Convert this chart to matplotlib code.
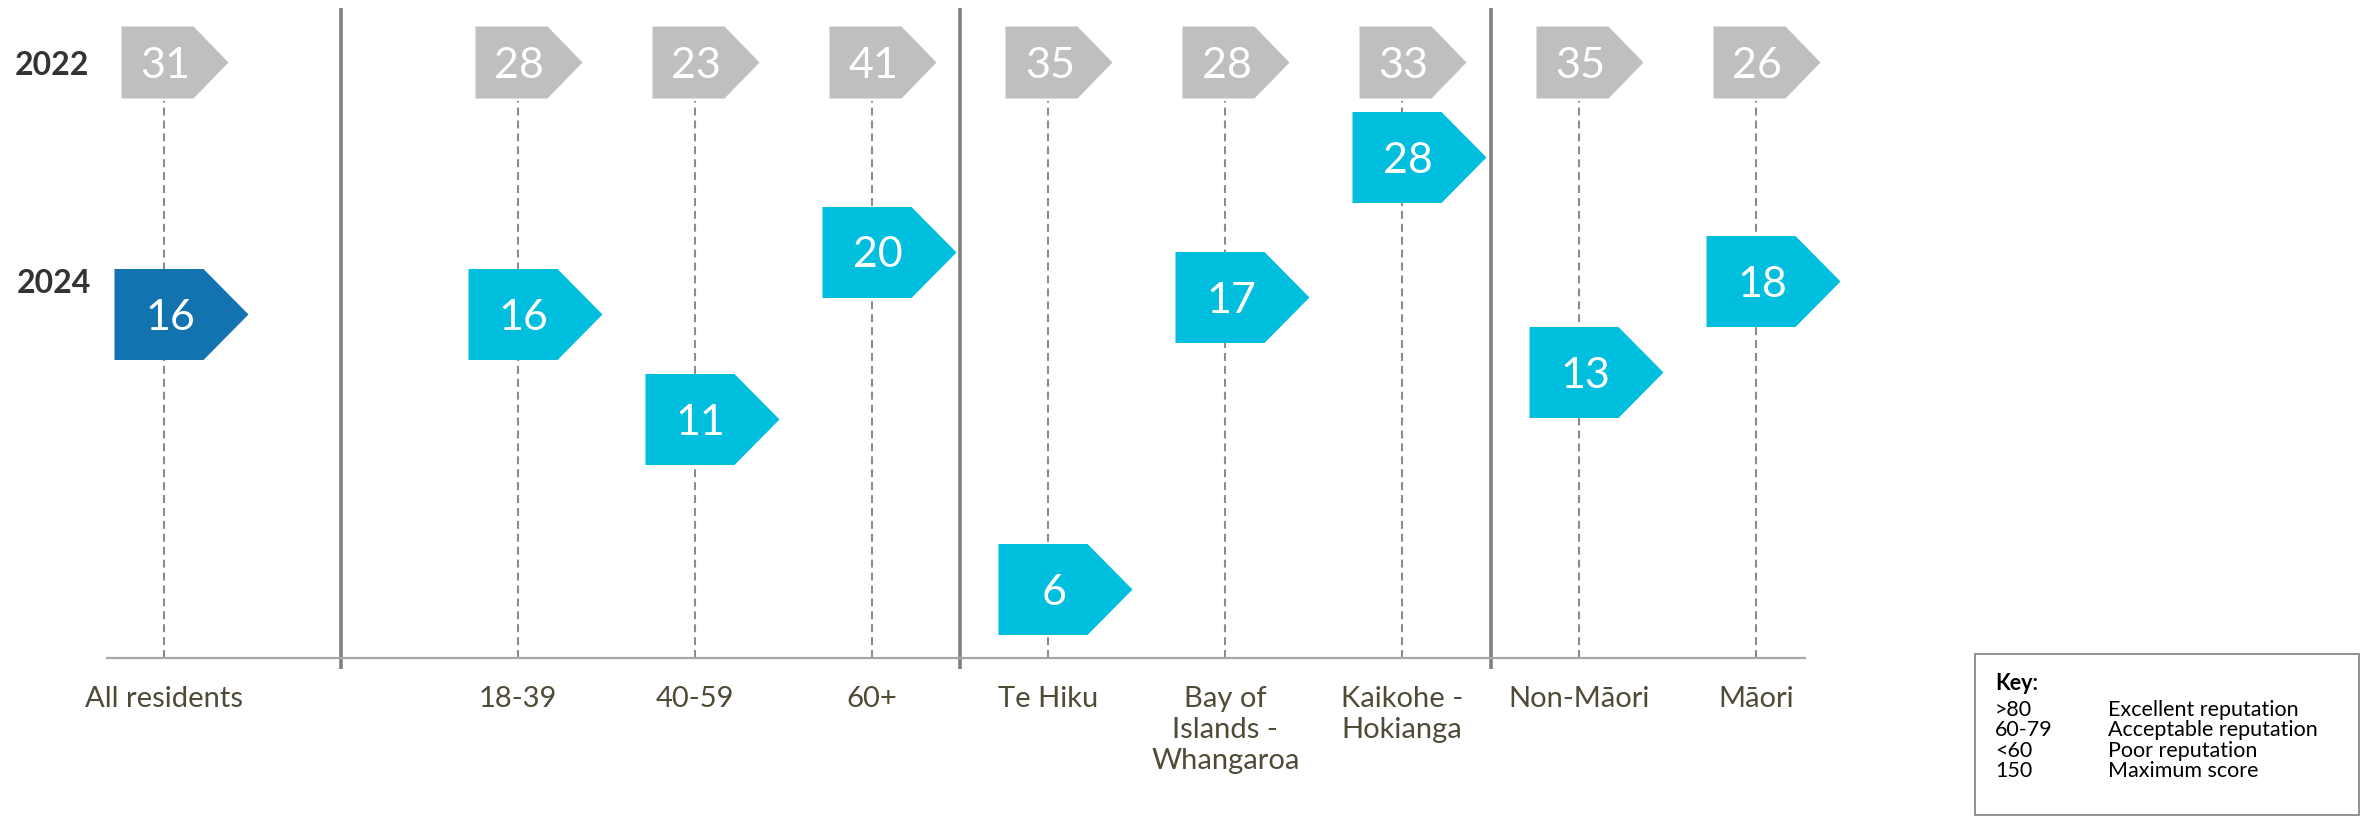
import matplotlib
matplotlib.use("Agg")
import matplotlib.pyplot as plt
from matplotlib.path import Path
from matplotlib.patches import Rectangle
import numpy as np

plt.rcParams["font.family"] = ["Lato", "DejaVu Sans"]

# data
categories = ["All residents", "18-39", "40-59", "60+", "Te Hiku",
              "Bay of\nIslands -\nWhangaroa", "Kaikohe -\nHokianga",
              "Non-Māori", "Māori"]
group_sizes = [1, 3, 3, 2]
scores_2022 = [31, 28, 23, 41, 35, 28, 33, 35, 26]
scores_2024 = [16, 16, 11, 20, 6, 17, 28, 13, 18]
years = ["2022", "2024"]
key_ranges = [">80", "60-79", "<60", "150"]
key_meanings = ["Excellent reputation", "Acceptable reputation",
                "Poor reputation", "Maximum score"]

W, H = 2364, 817
n = len(categories)
idx = np.arange(n)
x = idx + (idx >= 1)          # extra gap after "All residents"
bounds = np.cumsum(group_sizes)[:-1]
seps = [(x[b - 1] + x[b]) / 2 for b in bounds]

grey = "#BFBFBF"
dark_blue = "#1373B1"
cyan = "#00BFDE"
colors_2024 = [dark_blue] + [cyan] * (n - 1)


def arrow(left, body, tip, half):
    verts = [(left, -half), (body, -half), (tip, 0), (body, half),
             (left, half), (left, -half)]
    codes = [Path.MOVETO] + [Path.LINETO] * 4 + [Path.CLOSEPOLY]
    return Path(verts, codes)


arrow24 = arrow(-50, 39, 84, 45.5)
arrow22 = arrow(-43, 29, 64, 36)
ms24 = 2 * 84 * 0.72
ms22 = 2 * 64 * 0.72

fig = plt.figure(figsize=(W / 100, H / 100), dpi=100)
ax = fig.add_axes([107 / W, 1 - 658 / H, (1805 - 107) / W, 658 / H])
ax.set_yscale("log")
ax.set_ylim(4.70, 49.0)
ax.set_xlim(-0.322, 9.277)

for s in ["top", "left", "right"]:
    ax.spines[s].set_visible(False)
ax.spines["bottom"].set_color("#A6A6A6")
ax.spines["bottom"].set_linewidth(1.6)
ax.tick_params(axis="y", which="both", left=False, labelleft=False)
ax.set_xticks(x)
ax.set_xticklabels(categories, fontsize=21, color="#4F4B36", linespacing=1.25)
ax.tick_params(axis="x", length=0, pad=20)

xt = ax.get_xaxis_transform()
row22 = (658 - 62) / 658

# dashed guide lines
ax.vlines(x, 0, (658 - 101) / 658, transform=xt, colors="#8C8C8C",
          linestyles=(0, (3.8, 2.4)), lw=1.5, zorder=1)

# group separators
for s in seps:
    ax.plot([s, s], [-0.017, 0.988], transform=xt, color="#808080", lw=2.6,
            clip_on=False, solid_capstyle="butt", zorder=2)

# 2022 row
for xi, v in zip(x, scores_2022):
    ax.plot(xi, row22, transform=xt, marker=arrow22, ms=ms22, color=grey,
            mew=0, ls="none", zorder=3, clip_on=False)
    ax.annotate(str(v), (xi, row22), xycoords=xt, xytext=(1, 0),
                textcoords="offset points", ha="center", va="center_baseline",
                fontsize=31, color="white", zorder=4)

# 2024 markers
for xi, v, c in zip(x, scores_2024, colors_2024):
    ax.plot(xi, v, marker=arrow24, ms=ms24, color=c, mew=0, ls="none",
            zorder=3, clip_on=False)
    ax.annotate(str(v), (xi, v), xytext=(4.3, 0), textcoords="offset points",
                ha="center", va="center_baseline", fontsize=31,
                color="white", zorder=4)

# year labels
fig.text(15 / W, 1 - 63 / H, years[0], ha="left", va="center_baseline",
         fontsize=23, weight="bold", color="#333333")
fig.text(17 / W, 1 - 281 / H, years[1], ha="left", va="center_baseline",
         fontsize=23, weight="bold", color="#333333")

# key box
fig.add_artist(Rectangle((1975 / W, 1 - 815 / H), (2359 - 1975) / W,
                         (815 - 654) / H, transform=fig.transFigure,
                         fill=False, ec="#7F7F7F", lw=1.2))
fig.text(1995 / W, 1 - 682 / H, "Key:", ha="left", va="center_baseline",
         fontsize=15.5, weight="bold", color="black")
for i, (r, m) in enumerate(zip(key_ranges, key_meanings)):
    yy = 1 - (708 + 20.3 * i) / H
    fig.text(1995 / W, yy, r, ha="left", va="center_baseline", fontsize=15.5,
             color="black")
    fig.text(2108 / W, yy, m, ha="left", va="center_baseline", fontsize=15.5,
             color="black")

fig.savefig("out.png", dpi=100)
